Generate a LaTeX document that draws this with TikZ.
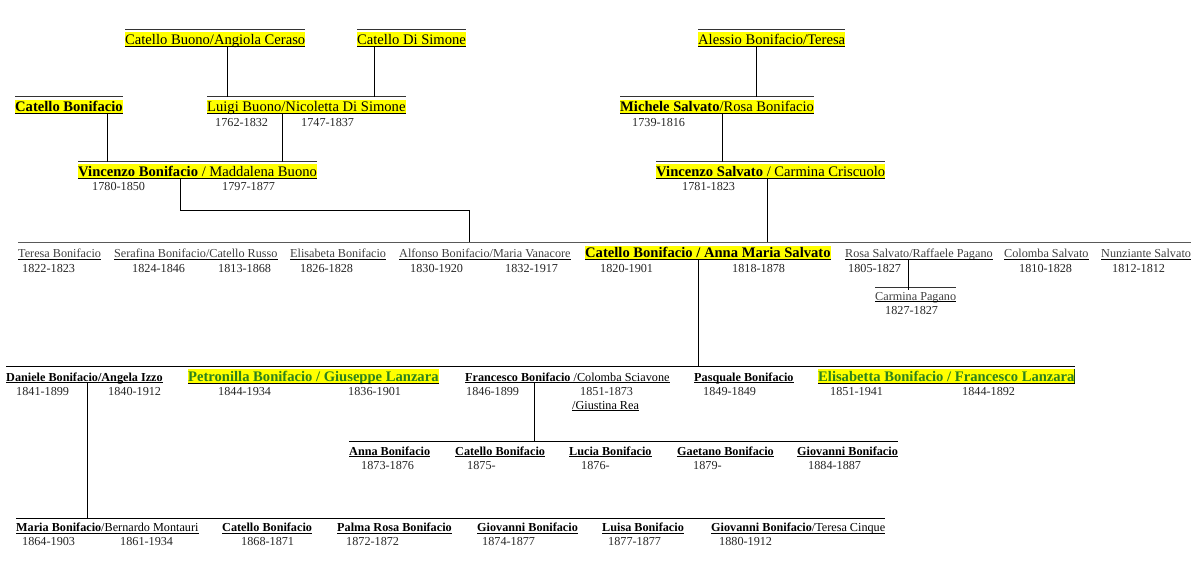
\documentclass[tikz,border=0pt]{standalone}
\usepackage{fontspec}
\setmainfont{Liberation Serif}
\usetikzlibrary{positioning}
\newcommand{\fbig}{\fontsize{14.6}{16}\selectfont}
\newcommand{\fsmall}{\fontsize{12.2}{14}\selectfont}
\definecolor{hlyellow}{RGB}{255,255,0}
\definecolor{lanzgreen}{RGB}{44,130,28}

\begin{document}
\begin{tikzpicture}[x=1pt, y=-1pt,
  pers/.style={anchor=base west, inner xsep=0pt, inner ysep=2pt, text height=10pt, text depth=0pt, font=\fbig,
    append after command={(\tikzlastnode.south west) edge[draw=black, line width=0.9pt] (\tikzlastnode.south east)}},
  kid/.style={pers, inner ysep=1.5pt, text height=8.5pt, font=\fsmall},
  faded/.style={text=black!75},
  hl/.style={fill=hlyellow},
  lanz/.style={hl, text=lanzgreen, font=\fbig\bfseries},
  genbar/.style={append after command={([yshift=2.5pt]\tikzlastnode.north west) edge[draw=black!80, line width=1pt] ([yshift=2.5pt]\tikzlastnode.north east)}},
  years/.style={anchor=base west, inner sep=0pt, font=\fsmall, text=black!85},
  link/.style={draw=black, line width=0.8pt},
  rowbar/.style={draw=black!65, line width=1pt}
]
\useasboundingbox[fill=white] (0,0) rectangle (1200,576);

% generation bars
\coordinate (row2) at (0,97);
\coordinate (row3) at (0,162);
\coordinate (row4) at (0,242);
\coordinate (row5) at (0,366);
\coordinate (row6) at (0,441);
\coordinate (row7) at (0,518);
\coordinate (elbow) at (469,210);

% great-grandparents
\node[pers,hl,genbar] (cbac) at (125,44) {Catello Buono/Angiola Ceraso};
\node[pers,hl,genbar] (cds) at (357,44) {Catello Di Simone};
\node[pers,hl,genbar] (alessio) at (698,44) {Alessio Bonifacio/Teresa};

% grandparents
\node[pers,hl,genbar] (cb) at (15,111.5) {\textbf{Catello Bonifacio}};
\node[pers,hl,genbar] (luigi) at (207,111.5) {Luigi Buono/Nicoletta Di Simone};
\node[pers,hl,genbar] (michele) at (620,111.5) {\textbf{Michele Salvato}/Rosa Bonifacio};
\node[years] (y-luigi) at (215,126) {1762-1832};
\node[years] (y-nicoletta) at (301,126) {1747-1837};
\node[years] (y-michele) at (632,126) {1739-1816};

% parents
\node[pers,hl,genbar] (vinB) at (78,176) {\textbf{Vincenzo Bonifacio} / Maddalena Buono};
\node[pers,hl,genbar] (vinS) at (656,176) {\textbf{Vincenzo Salvato} / Carmina Criscuolo};
\node[years] (y-vinB) at (92,190) {1780-1850};
\node[years] (y-maddalena) at (222,190) {1797-1877};
\node[years] (y-vinS) at (682,190) {1781-1823};

% siblings row
\node[kid,faded] (teresa) at (18,257.5) {Teresa Bonifacio};
\node[kid,faded] (serafina) at (114,257.5) {Serafina Bonifacio/Catello Russo};
\node[kid,faded] (elisabeta) at (290,257.5) {Elisabeta Bonifacio};
\node[kid,faded] (alfonso) at (399,257.5) {Alfonso Bonifacio/Maria Vanacore};
\node[pers,hl] (catAnna) at (585,257.5) {\textbf{Catello Bonifacio / Anna Maria Salvato}};
\node[kid,faded] (rosaS) at (845,257.5) {Rosa Salvato/Raffaele Pagano};
\node[kid,faded] (colomba) at (1004,257.5) {Colomba Salvato};
\node[kid,faded] (nunz) at (1101,257.5) {Nunziante Salvato};
\node[years] (y-teresa) at (22,272) {1822-1823};
\node[years] (y-serafina) at (132,272) {1824-1846};
\node[years] (y-russo) at (218,272) {1813-1868};
\node[years] (y-elisabeta) at (300,272) {1826-1828};
\node[years] (y-alfonso) at (410,272) {1830-1920};
\node[years] (y-vanacore) at (505,272) {1832-1917};
\node[years] (y-catello) at (600,272) {1820-1901};
\node[years] (y-anna) at (732,272) {1818-1878};
\node[years] (y-rosaS) at (848,272) {1805-1827};
\node[years] (y-colomba) at (1019,272) {1810-1828};
\node[years] (y-nunz) at (1112,272) {1812-1812};
\node[kid,faded,genbar] (carmina) at (875,300) {Carmina Pagano};
\node[years] (y-carmina) at (885,314) {1827-1827};

% children
\node[kid] (daniele) at (6,381) {\textbf{Daniele Bonifacio/Angela Izzo}};
\node[pers,lanz] (petronilla) at (188,381) {Petronilla Bonifacio / Giuseppe Lanzara};
\node[kid] (francesco) at (465,381) {\textbf{Francesco Bonifacio} /Colomba Sciavone};
\node[kid] (pasquale) at (694,381) {\textbf{Pasquale Bonifacio}};
\node[pers,lanz] (elisabetta) at (818,381) {Elisabetta Bonifacio / Francesco Lanzara};
\node[kid] (giustina) at (572,409) {/Giustina Rea};
\node[years] (y-daniele) at (16,395) {1841-1899};
\node[years] (y-izzo) at (108,395) {1840-1912};
\node[years] (y-petronilla) at (218,395) {1844-1934};
\node[years] (y-giuseppe) at (348,395) {1836-1901};
\node[years] (y-francesco) at (466,395) {1846-1899};
\node[years] (y-sciavone) at (580,395) {1851-1873};
\node[years] (y-pasquale) at (703,395) {1849-1849};
\node[years] (y-elisabetta) at (830,395) {1851-1941};
\node[years] (y-francescoL) at (962,395) {1844-1892};
\draw[draw=lanzgreen!60!black, line width=1.5pt] (elisabetta.north east) -- (elisabetta.south east);

% grandchildren of Francesco
\node[kid] (anna) at (349,455) {\textbf{Anna Bonifacio}};
\node[kid] (catelloF) at (455,455) {\textbf{Catello Bonifacio}};
\node[kid] (lucia) at (569,455) {\textbf{Lucia Bonifacio}};
\node[kid] (gaetano) at (677,455) {\textbf{Gaetano Bonifacio}};
\node[kid] (giovanniF) at (797,455) {\textbf{Giovanni Bonifacio}};
\node[years] (y-anna6) at (361,469) {1873-1876};
\node[years] (y-catelloF) at (467,469) {1875-};
\node[years] (y-lucia) at (581,469) {1876-};
\node[years] (y-gaetano) at (693,469) {1879-};
\node[years] (y-giovanniF) at (808,469) {1884-1887};

% grandchildren of Daniele
\node[kid] (maria) at (16,531.5) {\textbf{Maria Bonifacio}/Bernardo Montauri};
\node[kid] (catelloD) at (222,531.5) {\textbf{Catello Bonifacio}};
\node[kid] (palma) at (337,531.5) {\textbf{Palma Rosa Bonifacio}};
\node[kid] (giovanniD) at (477,531.5) {\textbf{Giovanni Bonifacio}};
\node[kid] (luisa) at (602,531.5) {\textbf{Luisa Bonifacio}};
\node[kid] (giovanniT) at (711,531.5) {\textbf{Giovanni Bonifacio}/Teresa Cinque};
\node[years] (y-maria) at (22,545.5) {1864-1903};
\node[years] (y-bernardo) at (120,545.5) {1861-1934};
\node[years] (y-catelloD) at (241,545.5) {1868-1871};
\node[years] (y-palma) at (346,545.5) {1872-1872};
\node[years] (y-giovanniD) at (482,545.5) {1874-1877};
\node[years] (y-luisa) at (608,545.5) {1877-1877};
\node[years] (y-giovanniT) at (719,545.5) {1880-1912};

% row bars
\draw[rowbar] (teresa.west |- row4) -- (nunz.east |- row4);
\draw[link] (daniele.west |- row5) -- (elisabetta.east |- row5);
\draw[link] (anna.west |- row6) -- (giovanniF.east |- row6);
\draw[link] (maria.west |- row7) -- (giovanniT.east |- row7);

% descent lines
\draw[link] ([xshift=102pt]cbac.south west) -- ([xshift=102pt]cbac.south west |- row2);
\draw[link] ([xshift=17pt]cds.south west) -- ([xshift=17pt]cds.south west |- row2);
\draw[link] ([xshift=58pt]alessio.south west) -- ([xshift=58pt]alessio.south west |- row2);
\draw[link] ([xshift=92pt]cb.south west) -- ([xshift=92pt]cb.south west |- row3);
\draw[link] ([xshift=75pt]luigi.south west) -- ([xshift=75pt]luigi.south west |- row3);
\draw[link] ([xshift=102pt]michele.south west) -- ([xshift=102pt]michele.south west |- row3);
\draw[link] ([xshift=102pt]vinB.south west) |- (elbow) -- (elbow |- row4);
\draw[link] ([xshift=111pt]vinS.south west) -- ([xshift=111pt]vinS.south west |- row4);
\draw[link] ([xshift=63pt]rosaS.south west) -- ([xshift=63pt]rosaS.south west |- carmina.north);
\draw[link] ([xshift=113pt]catAnna.south west) -- ([xshift=113pt]catAnna.south west |- row5);
\draw[link] ([xshift=69pt]francesco.south west) -- ([xshift=69pt]francesco.south west |- row6);
\draw[link] ([xshift=81pt]daniele.south west) -- ([xshift=81pt]daniele.south west |- row7);
\end{tikzpicture}
\end{document}
